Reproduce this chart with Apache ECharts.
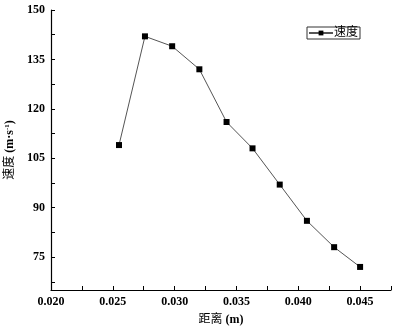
<!DOCTYPE html>
<html>
<head>
<meta charset="utf-8">
<script src="https://cdn.jsdelivr.net/npm/echarts@6/dist/echarts.min.js"></script>
<style>
  html, body { margin: 0; padding: 0; background: #fff; }
  #chart { width: 399px; height: 328px; }
</style>
</head>
<body>
<div id="chart"></div>
<script>
// distance (m) and speed (m/s)
const distance = [0.0255, 0.0276, 0.0298, 0.0320, 0.0342, 0.0363, 0.0385, 0.0407, 0.0429, 0.0450];
const speed = [109, 142, 139, 132, 116, 108, 97, 86, 78, 72];

const xLabels = [0.020, 0.025, 0.030, 0.035, 0.040, 0.045];
const xTicks = [0.020, 0.0225, 0.025, 0.0275, 0.030, 0.0325, 0.035, 0.0375, 0.040, 0.0425, 0.045, 0.0475];
const yLabels = [75, 90, 105, 120, 135, 150];
const yTicks = [67.5, 75, 82.5, 90, 97.5, 105, 112.5, 120, 127.5, 135, 142.5, 150];

const serif = '"Liberation Serif", "Noto Sans CJK SC", serif';

const chart = echarts.init(document.getElementById('chart'));

chart.setOption({
  animation: false,
  backgroundColor: '#fff',
  grid: {
    left: 51,
    right: 8,
    top: 10,
    bottom: 38,
    outerBoundsMode: 'none'
  },
  legend: {
    left: 307,
    top: 27,
    padding: [0, 2, 0, 1],
    borderColor: '#333',
    borderWidth: 1,
    itemWidth: 24,
    itemHeight: 6,
    itemGap: 2,
    textStyle: {
      fontFamily: serif,
      fontSize: 12,
      color: '#000',
      padding: [0, 0, 0, -4]
    },
    data: ['速度']
  },
  xAxis: {
    type: 'value',
    min: 0.02,
    max: 0.0475,
    name: '距离 {b|(m)}',
    nameLocation: 'middle',
    nameGap: 24,
    nameTextStyle: {
      fontFamily: serif,
      fontSize: 12,
      color: '#000',
      rich: {
        b: { fontFamily: serif, fontSize: 12, fontWeight: 'bold', color: '#000' }
      }
    },
    axisLine: { lineStyle: { color: '#000', width: 1.2 } },
    axisTick: {
      inside: true,
      length: 4,
      customValues: xTicks,
      lineStyle: { color: '#000' }
    },
    axisLabel: {
      customValues: xLabels,
      margin: 6,
      fontFamily: serif,
      fontSize: 12,
      fontWeight: 'bold',
      color: '#000',
      formatter: v => v.toFixed(3)
    },
    splitLine: { show: false }
  },
  yAxis: {
    type: 'value',
    min: 65,
    max: 150,
    name: '速度 {b|(m·s}{sup|-1}{b|)}',
    nameLocation: 'middle',
    nameGap: 32,
    nameTextStyle: {
      fontFamily: serif,
      fontSize: 12,
      color: '#000',
      rich: {
        b: { fontFamily: serif, fontSize: 12, fontWeight: 'bold', color: '#000' },
        sup: { fontFamily: serif, fontSize: 7, fontWeight: 'bold', color: '#000', padding: [0, 0, 6, 0] }
      }
    },
    axisLine: { show: true, lineStyle: { color: '#000', width: 1.2 } },
    axisTick: {
      show: true,
      inside: true,
      length: 4,
      customValues: yTicks,
      lineStyle: { color: '#000' }
    },
    axisLabel: {
      customValues: yLabels,
      margin: 6,
      fontFamily: serif,
      fontSize: 12,
      fontWeight: 'bold',
      color: '#000'
    },
    splitLine: { show: false }
  },
  series: [
    {
      name: '速度',
      type: 'line',
      data: distance.map((d, i) => [d, speed[i]]),
      symbol: 'rect',
      symbolSize: 6,
      itemStyle: { color: '#000' },
      lineStyle: { color: '#555', width: 1 }
    }
  ]
});
</script>
</body>
</html>
